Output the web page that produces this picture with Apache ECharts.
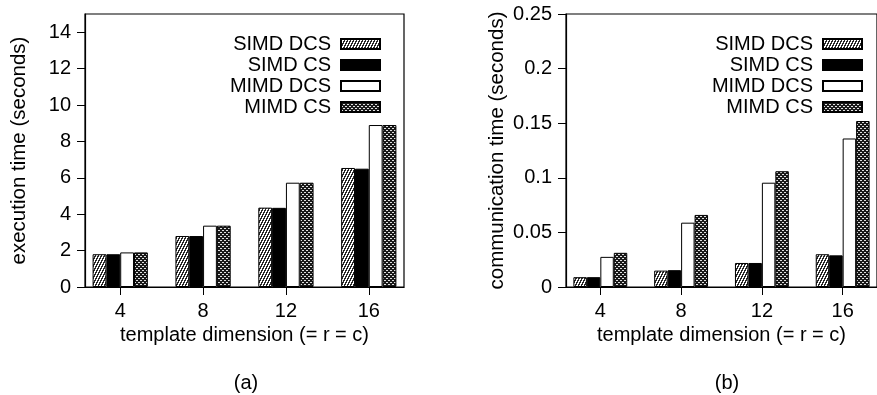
<!DOCTYPE html>
<html>
<head>
<meta charset="utf-8">
<script src="https://cdn.jsdelivr.net/npm/echarts@6/dist/echarts.min.js"></script>
<style>
  html, body { margin: 0; padding: 0; background: #fff; }
  #chart { width: 877px; height: 395px; }
</style>
</head>
<body>
<div id="chart"></div>
<script>
// Template dimensions on the x axis
const dims = [4, 8, 12, 16];
const seriesNames = ['SIMD DCS', 'SIMD CS', 'MIMD DCS', 'MIMD CS'];

// (a) execution time, seconds
const execSimdDcs = [1.8, 2.8, 4.36, 6.54];
const execSimdCs  = [1.8, 2.8, 4.35, 6.5];
const execMimdDcs = [1.9, 3.37, 5.73, 8.9];
const execMimdCs  = [1.9, 3.37, 5.73, 8.9];

// (b) communication time, seconds
const commSimdDcs = [0.009, 0.015, 0.022, 0.030];
const commSimdCs  = [0.009, 0.0154, 0.022, 0.029];
const commMimdDcs = [0.0276, 0.0589, 0.0955, 0.136];
const commMimdCs  = [0.0313, 0.066, 0.106, 0.152];

// Tick labels
const execTicks = [0, 2, 4, 6, 8, 10, 12, 14];
const commTicks = [0, 0.05, 0.1, 0.15, 0.2, 0.25];

const FONT = "'Liberation Sans', Arial, Helvetica, sans-serif";

// Small bitmap tiles used as bar fill patterns
function makeTile(w, h, fn) {
  const c = document.createElement('canvas');
  c.width = w; c.height = h;
  const ctx = c.getContext('2d');
  const img = ctx.createImageData(w, h);
  for (let y = 0; y < h; y++) {
    for (let x = 0; x < w; x++) {
      const v = fn(x, y);
      const i = (y * w + x) * 4;
      img.data[i] = v; img.data[i + 1] = v; img.data[i + 2] = v; img.data[i + 3] = 255;
    }
  }
  ctx.putImageData(img, 0, 0);
  return c;
}
const hatchTile = makeTile(3, 6, (x, y) => ((2 * x + y) % 6 < 3 ? 40 : 255));
const checkTile = makeTile(4, 4, (x, y) => {
  const lx = x % 4, ly = y % 4;
  if (ly === 0 && (lx === 0 || lx === 1)) return 225;
  if (ly === 2 && (lx === 2 || lx === 3)) return 225;
  return 25;
});

const fills = [
  { image: hatchTile, repeat: 'repeat' },
  '#000000',
  '#ffffff',
  { image: checkTile, repeat: 'repeat' }
];

function pairs(values) {
  return dims.map((d, i) => [d, values[i]]);
}

function barSeries(name, idx, values, axisIndex) {
  return {
    type: 'bar',
    name: name,
    xAxisIndex: axisIndex,
    yAxisIndex: axisIndex,
    data: pairs(values),
    barWidth: '16.667%',
    barGap: '0%',
    itemStyle: { color: fills[idx], borderColor: '#000', borderWidth: 1 },
    emphasis: { disabled: true }
  };
}

function xAxisCfg(gridIndex) {
  return {
    type: 'value',
    gridIndex: gridIndex,
    min: 2.3,
    max: 17.7,
    splitLine: { show: false },
    axisLine: { show: true, onZero: false, lineStyle: { color: '#000', width: 1.2 } },
    axisTick: { show: true, customValues: dims, length: 8, lineStyle: { color: '#000' } },
    axisLabel: { customValues: dims, color: '#000', fontSize: 20, fontFamily: FONT, margin: 14 },
    name: 'template dimension (= r = c)',
    nameLocation: 'middle',
    nameGap: 30,
    nameTextStyle: { color: '#000', fontSize: 20, fontFamily: FONT }
  };
}

function yAxisCfg(gridIndex, max, ticks, title, gap) {
  return {
    type: 'value',
    gridIndex: gridIndex,
    min: 0,
    max: max,
    splitLine: { show: false },
    axisLine: { show: true, lineStyle: { color: '#000', width: 1.2 } },
    axisTick: { show: true, customValues: ticks, length: 8, lineStyle: { color: '#000' } },
    axisLabel: { customValues: ticks, color: '#000', fontSize: 20, fontFamily: FONT, margin: 14 },
    name: title,
    nameLocation: 'middle',
    nameRotate: 90,
    nameGap: gap,
    nameTextStyle: { color: '#000', fontSize: 20.5, fontFamily: FONT }
  };
}

function legendCfg(right) {
  return {
    data: seriesNames,
    orient: 'vertical',
    align: 'right',
    right: right,
    top: 34,
    padding: 0,
    itemWidth: 39,
    itemHeight: 10,
    itemGap: 1,
    icon: 'rect',
    selectedMode: false,
    textStyle: { color: '#000', fontSize: 20, fontFamily: FONT, padding: [0, 5, 0, 0] }
  };
}

const chart = echarts.init(document.getElementById('chart'), null, { renderer: 'canvas' });

chart.setOption({
  animation: false,
  backgroundColor: '#fff',
  grid: [
    { left: 85, top: 14, width: 319, height: 273, show: true, borderColor: '#000', borderWidth: 1.2 },
    { left: 566, top: 14, width: 319, height: 273, show: true, borderColor: '#000', borderWidth: 1.2 }
  ],
  xAxis: [xAxisCfg(0), xAxisCfg(1)],
  yAxis: [
    yAxisCfg(0, 15, execTicks, 'execution time (seconds)', 55),
    yAxisCfg(1, 0.25, commTicks, 'communication time (seconds)', 58)
  ],
  legend: [legendCfg(496), legendCfg(14)],
  graphic: [
    { type: 'text', x: 246, y: 383, style: { text: '(a)', fill: '#000', font: '20px ' + FONT, textAlign: 'center', textVerticalAlign: 'middle' } },
    { type: 'text', x: 727, y: 383, style: { text: '(b)', fill: '#000', font: '20px ' + FONT, textAlign: 'center', textVerticalAlign: 'middle' } }
  ],
  series: [
    barSeries(seriesNames[0], 0, execSimdDcs, 0),
    barSeries(seriesNames[1], 1, execSimdCs, 0),
    barSeries(seriesNames[2], 2, execMimdDcs, 0),
    barSeries(seriesNames[3], 3, execMimdCs, 0),
    barSeries(seriesNames[0], 0, commSimdDcs, 1),
    barSeries(seriesNames[1], 1, commSimdCs, 1),
    barSeries(seriesNames[2], 2, commMimdDcs, 1),
    barSeries(seriesNames[3], 3, commMimdCs, 1)
  ]
});
</script>
</body>
</html>
